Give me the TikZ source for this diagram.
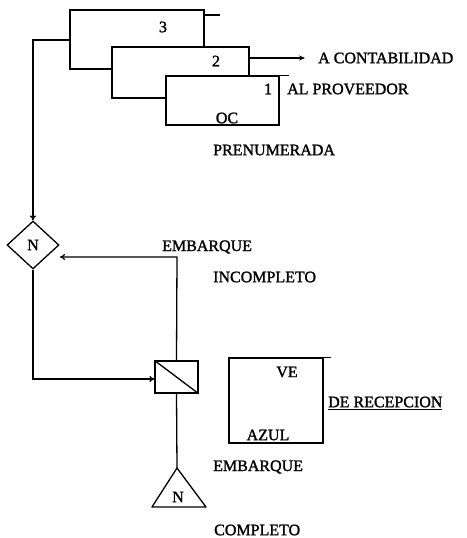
\documentclass[tikz,border=0pt]{standalone}
\usepackage{fontspec}
\setmainfont[FakeBold=1.5]{Liberation Serif}
\usetikzlibrary{shapes.geometric,arrows.meta}
\begin{document}
\begin{tikzpicture}[x=1pt,y=-1pt,
  ln/.style={line width=1.3pt},
  doc/.style={draw,line width=1.3pt,fill=white,inner sep=0pt},
  lbl/.style={font=\fontsize{16}{18}\selectfont,inner sep=0pt},
  >={To[length=5pt,width=6pt]}]
\useasboundingbox (0,0) rectangle (466,538);
% documents
\node[doc,minimum width=134pt,minimum height=59pt] (b3) at (137,39.5) {};
\draw[ln] (204,15) -- (220,15);
\node[doc,minimum width=137pt,minimum height=51pt] (b2) at (180.5,72.5) {};
\node[doc,minimum width=113pt,minimum height=49pt] (b1) at (222.5,100.5) {};
\draw[ln] (b1.north east) -- ++(9,0);
\node[lbl] (n3) at (163,27) {3};
\node[lbl] (n2) at (216,61) {2};
\node[lbl] (n1) at (268,89) {1};
\node[lbl] (oc) at (227,118) {OC};
\node[lbl,anchor=west] (acont) at (318,58) {A CONTABILIDAD};
\node[lbl,anchor=west] (alprov) at (287,89) {AL PROVEEDOR};
\node[lbl,anchor=west] (pren) at (213,150) {PRENUMERADA};
\coordinate (acx) at (305,58);
\draw[ln,-{Stealth[length=6pt,width=5pt]}] (b2.east |- acx) -- (acx);
% decision diamond
\node[draw,line width=1.3pt,shape=diamond,aspect=1.08,minimum width=52pt,minimum height=48pt,inner sep=0pt] (dia) at (33,245) {};
\node[lbl] (dn) at (33,245) {N};
\coordinate (c3) at (33,40);
\draw[ln,->] (b3.west |- c3) -- (c3) -- (dia.north);
% square
\node[doc,minimum width=43pt,minimum height=32pt] (sq) at (176.5,377) {};
\draw[ln] (sq.north west) -- (sq.south east);
\coordinate (ret) at (177,257);
\coordinate (rettip) at (60,257);
\draw[ln,->] (sq.north) -- (ret) -- (rettip);
\coordinate (bl) at (33,379);
\draw[ln,->] (dia.south) -- (bl) -- (sq.west |- bl);
% triangle
\coordinate (tri) at (177,468);
\draw[ln] (sq.south) -- (tri);
\draw[ln,line join=round] (tri) -- (206,507) -- (152,507) -- cycle;
\node[lbl] (tn) at (178,497) {N};
% VE box
\node[doc,minimum width=94pt,minimum height=85pt] (ve) at (276,400.5) {};
\draw[ln] (ve.north east) -- ++(7,0);
\node[lbl] (vet) at (287,372) {VE};
\node[lbl] (azul) at (268,435) {AZUL};
\node[lbl,anchor=west] (derec) at (328,403) {\underline{DE RECEPCION}};
% labels
\node[lbl,anchor=west] (emb1) at (162,247) {EMBARQUE};
\node[lbl,anchor=west] (inc) at (213,277) {INCOMPLETO};
\node[lbl,anchor=west] (emb2) at (213,467) {EMBARQUE};
\node[lbl,anchor=west] (comp) at (214,530) {COMPLETO};
\end{tikzpicture}
\end{document}
